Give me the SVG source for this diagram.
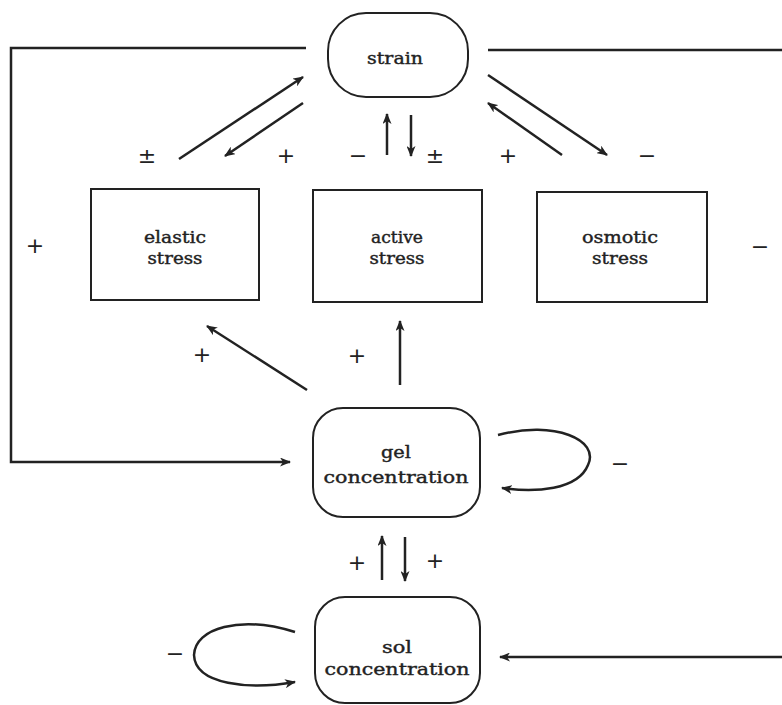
<svg xmlns="http://www.w3.org/2000/svg" width="782" height="705" viewBox="0 0 782 705">
<style>
.node{fill:#fff;stroke:#222;stroke-width:2}
.lbl{font-family:"DejaVu Serif","Liberation Serif",serif;font-size:17px;fill:#222;stroke:#222;stroke-width:0.4;text-anchor:middle}
.sign{font-family:"DejaVu Sans","Liberation Sans",sans-serif;font-size:22px;fill:#222;text-anchor:middle}
.c{fill:none;stroke:#222;stroke-width:2.5}
</style>
<defs>
<marker id="ah" markerUnits="userSpaceOnUse" markerWidth="11" markerHeight="9" refX="10" refY="4.5" orient="auto">
<path d="M0,0 L11,4.5 L0,9 L3,4.5 z" fill="#222"/>
</marker>
</defs>
<rect width="782" height="705" fill="#fff"/>
<g id="connectors">
<polyline class="c" points="306,48 11,48 11,462 290,462" marker-end="url(#ah)"/>
<polyline class="c" points="488,50 782,50"/>
<polyline class="c" points="782,657 500,657" marker-end="url(#ah)"/>
<line class="c" x1="179" y1="159" x2="303" y2="77" marker-end="url(#ah)"/>
<line class="c" x1="303" y1="103" x2="225" y2="156" marker-end="url(#ah)"/>
<line class="c" x1="387" y1="155" x2="387" y2="114" marker-end="url(#ah)"/>
<line class="c" x1="411" y1="115" x2="411" y2="156" marker-end="url(#ah)"/>
<line class="c" x1="488" y1="75" x2="607" y2="155" marker-end="url(#ah)"/>
<line class="c" x1="562" y1="155" x2="488" y2="103" marker-end="url(#ah)"/>
<line class="c" x1="307" y1="390" x2="207" y2="326" marker-end="url(#ah)"/>
<line class="c" x1="400" y1="385" x2="400" y2="321" marker-end="url(#ah)"/>
<path class="c" d="M498,435 C555,420 600,440 588,465 C578,490 535,493 502,488" marker-end="url(#ah)"/>
<line class="c" x1="382" y1="580" x2="382" y2="536" marker-end="url(#ah)"/>
<line class="c" x1="405" y1="537" x2="405" y2="581" marker-end="url(#ah)"/>
<path class="c" d="M295,632 C240,615 195,628 194,655 C195,685 250,690 295,682" marker-end="url(#ah)"/>
</g>
<g id="strain">
<rect class="node" x="328" y="13" width="140" height="84" rx="38"/>
<text class="lbl" x="395" y="64" textLength="56" lengthAdjust="spacingAndGlyphs">strain</text>
</g>
<g id="elastic">
<rect class="node" x="91" y="189" width="168" height="111"/>
<text class="lbl" x="175" y="243" textLength="62" lengthAdjust="spacingAndGlyphs">elastic</text>
<text class="lbl" x="175" y="264" textLength="55" lengthAdjust="spacingAndGlyphs">stress</text>
</g>
<g id="active">
<rect class="node" x="313" y="190" width="169" height="112"/>
<text class="lbl" x="397" y="243" textLength="52" lengthAdjust="spacingAndGlyphs">active</text>
<text class="lbl" x="397" y="264" textLength="55" lengthAdjust="spacingAndGlyphs">stress</text>
</g>
<g id="osmotic">
<rect class="node" x="537" y="192" width="170" height="110"/>
<text class="lbl" x="620" y="243" textLength="76" lengthAdjust="spacingAndGlyphs">osmotic</text>
<text class="lbl" x="620" y="264" textLength="56" lengthAdjust="spacingAndGlyphs">stress</text>
</g>
<g id="gel">
<rect class="node" x="313" y="408" width="167" height="109" rx="30"/>
<text class="lbl" x="396" y="458" textLength="30" lengthAdjust="spacingAndGlyphs">gel</text>
<text class="lbl" x="396" y="483" textLength="145" lengthAdjust="spacingAndGlyphs">concentration</text>
</g>
<g id="sol">
<rect class="node" x="315" y="597" width="165" height="106" rx="30"/>
<text class="lbl" x="397" y="653" textLength="30" lengthAdjust="spacingAndGlyphs">sol</text>
<text class="lbl" x="397" y="675" textLength="145" lengthAdjust="spacingAndGlyphs">concentration</text>
</g>
<g id="signs">
<text class="sign" x="147" y="163">±</text>
<text class="sign" x="286" y="163">+</text>
<text class="sign" x="358" y="163">−</text>
<text class="sign" x="435" y="163">±</text>
<text class="sign" x="508" y="163">+</text>
<text class="sign" x="647" y="163">−</text>
<text class="sign" x="35" y="253">+</text>
<text class="sign" x="760" y="254">−</text>
<text class="sign" x="202" y="362">+</text>
<text class="sign" x="357" y="363">+</text>
<text class="sign" x="620" y="471">−</text>
<text class="sign" x="357" y="570">+</text>
<text class="sign" x="435" y="568">+</text>
<text class="sign" x="175" y="661">−</text>
</g>
</svg>
